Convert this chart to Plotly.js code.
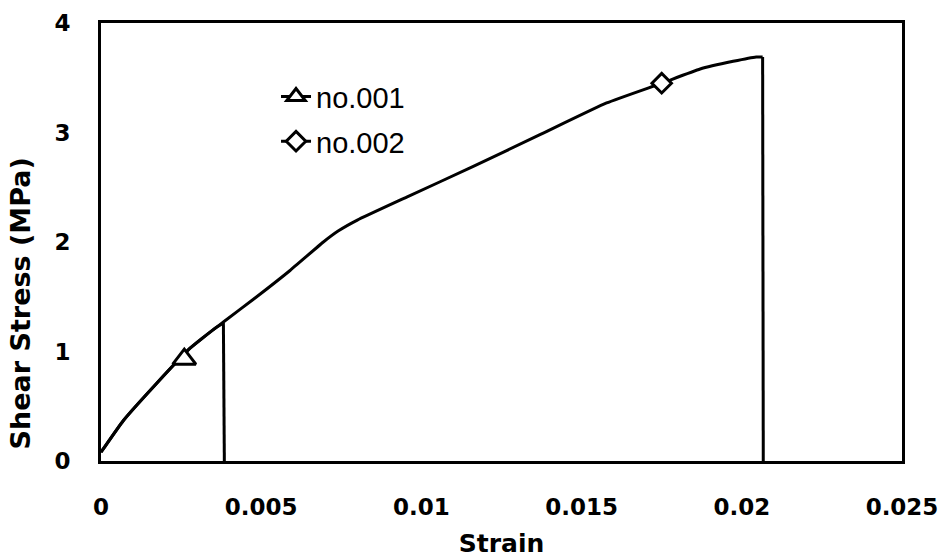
<!DOCTYPE html>
<html>
<head>
<meta charset="utf-8">
<script src="https://cdn.plot.ly/plotly-3.0.1.min.js"></script>
<style>html,body{margin:0;padding:0;background:#fff;}#chart{width:940px;height:559px;}</style>
</head>
<body>
<div id="chart"></div>
<script>
// Series no.001
const strain001 = [0, 0.0007, 0.00174, 0.00278, 0.0035, 0.00382, 0.00385];
const stress001 = [0.08, 0.37, 0.71, 1.03, 1.2, 1.26, 0];
// Series no.002
const strain002 = [0, 0.0007, 0.00174, 0.00278, 0.00382, 0.00486, 0.0059, 0.00694, 0.0074, 0.0080, 0.00954, 0.01162, 0.0137, 0.01578, 0.0175, 0.0187, 0.01973, 0.02045, 0.02065, 0.02067];
const stress002 = [0.08, 0.37, 0.71, 1.03, 1.27, 1.50, 1.74, 2.00, 2.10, 2.20, 2.41, 2.69, 2.98, 3.27, 3.45, 3.58, 3.65, 3.69, 3.69, 0];
// Marker positions (one marker per series)
const marker001X = [0.0026], marker001Y = [0.93];
const marker002X = [0.0175], marker002Y = [3.45];
// Axis ticks
const xTicks = [0, 0.005, 0.01, 0.015, 0.02, 0.025];
const xTickText = ['0', '0.005', '0.01', '0.015', '0.02', '0.025'];
const yTicks = [0, 1, 2, 3, 4];

const black = '#000000';
// smooth loading part (all but the final failure drop) and straight failure drop
function parts(xs, ys) {
  const n = xs.length;
  return [
    {x: xs.slice(0, n - 1), y: ys.slice(0, n - 1), shape: 'spline'},
    {x: xs.slice(n - 2), y: ys.slice(n - 2), shape: 'linear'}
  ];
}
const traces = [];
[[strain002, stress002], [strain001, stress001]].forEach(([xs, ys]) => {
  parts(xs, ys).forEach(p => traces.push({
    x: p.x, y: p.y, mode: 'lines',
    line: {color: black, width: 3, shape: p.shape, smoothing: 0.4},
    showlegend: false, hoverinfo: 'skip'
  }));
});
traces.push(
  {x: marker001X, y: marker001Y, name: 'no.001', mode: 'lines+markers', line: {color: black, width: 3},
   marker: {symbol: 'triangle-up', size: 20, color: '#ffffff', line: {color: black, width: 3}}, legendgroup: 'a'},
  {x: marker002X, y: marker002Y, name: 'no.002', mode: 'lines+markers', line: {color: black, width: 3},
   marker: {symbol: 'diamond', size: 15, color: '#ffffff', line: {color: black, width: 3}}, legendgroup: 'b'}
);

const layout = {
  width: 940, height: 559,
  margin: {l: 101, r: 38, t: 23, b: 98},
  paper_bgcolor: '#ffffff', plot_bgcolor: '#ffffff',
  showlegend: true,
  legend: {x: 0.2185, y: 0.89, xanchor: 'left', yanchor: 'top', bgcolor: 'rgba(0,0,0,0)',
           font: {family: 'Liberation Sans, Arial, sans-serif', size: 29, color: black}, tracegroupgap: 4},
  xaxis: {
    range: [0, 0.025], tickvals: xTicks, ticktext: xTickText, showgrid: false, zeroline: false,
    showline: true, linecolor: black, linewidth: 3, mirror: true, ticks: '',
    ticklabelstandoff: 23,
    tickfont: {family: 'DejaVu Sans, Verdana, sans-serif', size: 23, color: black, weight: 'bold'},
    title: {text: '<b>Strain</b>', font: {family: 'DejaVu Sans, Verdana, sans-serif', size: 25, color: black}, standoff: 16}
  },
  yaxis: {
    range: [0, 4], tickvals: yTicks, showgrid: false, zeroline: false,
    showline: true, linecolor: black, linewidth: 3, mirror: true, ticks: '',
    ticklabelstandoff: 23,
    tickfont: {family: 'DejaVu Sans, Verdana, sans-serif', size: 23, color: black, weight: 'bold'}
  },
  annotations: [{
    text: '<b>Shear Stress (MPa)</b>', textangle: -90, xref: 'paper', yref: 'paper',
    x: -0.101, y: 0.36, xanchor: 'center', yanchor: 'middle', showarrow: false,
    font: {family: 'DejaVu Sans, Verdana, sans-serif', size: 27, color: black}
  }]
};

Plotly.newPlot('chart', traces, layout, {displayModeBar: false, staticPlot: true});
</script>
</body>
</html>
